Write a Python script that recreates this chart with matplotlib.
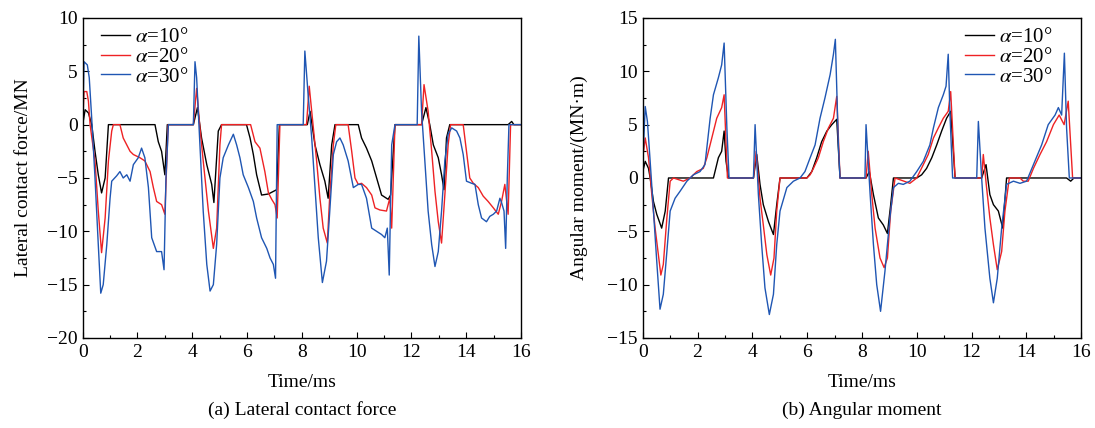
import matplotlib
matplotlib.use("Agg")
import matplotlib.pyplot as plt
from matplotlib.ticker import MultipleLocator

# ---------------- data: (a) lateral contact force (MN) ----------------
tf10 = [0, 0.09, 0.21, 0.33, 0.45, 0.57, 0.69, 0.82, 0.94, 2.64, 2.76, 2.88, 3.0, 3.09,
        4.04, 4.19, 4.34, 4.53, 4.71, 4.79, 4.95, 5.07, 5.98, 6.11, 6.23, 6.35, 6.53, 6.78,
        7.08, 7.18, 8.2, 8.3, 8.48, 8.66, 8.84, 8.96, 9.09, 9.21, 10.06, 10.18, 10.36, 10.55,
        10.73, 10.91, 11.15, 11.24, 11.4, 12.37, 12.53, 12.67, 12.8, 12.98, 13.1, 13.19,
        13.28, 13.4, 15.53, 15.66, 15.74, 16.0]
f10 = [0, 1.4, 1.1, 0, -2.5, -4.7, -6.4, -5.0, 0, 0, -1.6, -2.5, -4.7, 0,
       0, 1.6, -1.25, -3.75, -5.6, -7.3, -0.6, 0, 0, -1.25, -2.8, -4.7, -6.6, -6.5,
       -6.1, 0, 0, 1.25, -1.9, -3.75, -5.3, -6.9, -1.9, 0, 0, -1.25, -2.2, -3.4,
       -5.0, -6.6, -7.0, -6.6, 0, 0, 1.6, 0, -1.9, -3.1, -4.7, -6.1,
       -1.25, 0, 0, 0.3, 0, 0]

tf20 = [0, 0.05, 0.15, 0.21, 0.27, 0.45, 0.57, 0.69, 0.82, 0.94, 1.06, 1.12, 1.36, 1.48,
        1.61, 1.73, 1.85, 2.09, 2.27, 2.46, 2.58, 2.7, 2.88, 3.0, 3.12, 4.04, 4.16, 4.28,
        4.4, 4.59, 4.77, 4.89, 5.01, 5.07, 6.13, 6.29, 6.47, 6.65, 6.78, 6.9, 7.02, 7.1,
        7.2, 8.17, 8.27, 8.42, 8.54, 8.66, 8.78, 8.93, 9.02, 9.15, 9.24, 9.69, 9.82, 9.94,
        10.06, 10.18, 10.36, 10.55, 10.67, 10.85, 11.09, 11.21, 11.28, 11.4, 12.37, 12.46,
        12.61, 12.74, 12.86, 12.98, 13.1, 13.22, 13.34, 13.43, 13.89, 14.01, 14.13, 14.26,
        14.44, 14.62, 14.8, 14.99, 15.17, 15.29, 15.41, 15.53, 15.62, 16.0]
f20 = [0, 3.1, 3.1, 2.2, 0, -3.4, -8.1, -12.0, -8.75, -3.4, -0.6, 0, 0, -1.25,
       -1.9, -2.5, -2.8, -3.1, -3.4, -4.4, -5.9, -7.2, -7.5, -8.4, 0, 0, 3.4, -0.3,
       -3.4, -8.1, -11.6, -9.7, -1.9, 0, 0, -1.6, -2.2, -4.4, -6.4, -7.0, -7.5, -8.75,
       0, 0, 3.6, -0.3, -3.4, -6.9, -9.7, -11.1, -6.6, -1.9, 0, 0, -2.5, -5.0,
       -5.6, -5.5, -5.9, -6.6, -7.8, -8.0, -8.1, -6.9, -9.7, 0, 0, 3.75,
       1.25, -2.5, -6.25, -9.1, -11.1, -6.6, -1.9, 0, 0, -2.5, -5.0, -5.5,
       -5.9, -6.7, -7.2, -7.8, -8.4, -7.2, -5.6, -8.4, 0, 0]

tf30 = [0, 0.05, 0.17, 0.24, 0.33, 0.45, 0.57, 0.66, 0.75, 0.88, 1.0, 1.06, 1.24, 1.36,
        1.48, 1.61, 1.73, 1.85, 2.03, 2.15, 2.27, 2.4, 2.52, 2.7, 2.88, 2.97, 3.04, 3.13,
        4.04, 4.1, 4.16, 4.28, 4.4, 4.53, 4.65, 4.77, 4.89, 5.01, 5.13, 5.32, 5.5, 5.62,
        5.74, 5.86, 6.05, 6.23, 6.35, 6.53, 6.72, 6.84, 6.96, 7.04, 7.1, 8.05, 8.11, 8.23,
        8.36, 8.48, 8.6, 8.75, 8.9, 9.02, 9.15, 9.27, 9.39, 9.51, 9.69, 9.88, 10.06, 10.18,
        10.36, 10.55, 10.73, 10.91, 11.03, 11.12, 11.19, 11.28, 11.4, 12.21, 12.27, 12.37,
        12.49, 12.61, 12.74, 12.86, 12.98, 13.1, 13.22, 13.34, 13.47, 13.65, 13.77, 13.89,
        14.01, 14.2, 14.32, 14.44, 14.56, 14.74, 14.86, 14.99, 15.11, 15.23, 15.29, 15.38,
        15.44, 15.5, 15.56, 16.0]
f30 = [0, 5.9, 5.6, 4.4, 0.6, -5.0, -11.25, -15.8, -15.0, -11.25, -6.9, -5.3, -4.8, -4.4,
       -5.0, -4.7, -5.3, -3.75, -3.1, -2.2, -3.1, -5.9, -10.6, -11.9, -11.9, -13.6, -5.0, 0,
       0, 5.9, 4.4, -1.9, -8.1, -13.1, -15.6, -15.0, -11.25, -5.0, -3.1, -1.9, -0.9, -1.9,
       -3.1, -4.7, -5.9, -7.2, -8.75, -10.6, -11.6, -12.5, -13.1, -14.4, 0, 0, 6.9, 2.8,
       -1.25, -5.9, -10.6, -14.8, -12.8, -8.1, -2.8, -1.6, -1.25, -1.9, -3.4, -5.9, -5.6, -5.6,
       -6.9, -9.7, -10.0, -10.3, -10.6, -9.7, -14.1, -1.9, 0, 0, 8.3, 1.25,
       -3.4, -8.1, -11.25, -13.3, -11.9, -8.1, -3.4, -0.9, -0.3, -0.6, -1.25, -2.8,
       -5.3, -5.5, -5.6, -7.5, -8.75, -9.1, -8.6, -8.4, -8.1, -6.9, -7.3, -8.1,
       -11.6, -5.0, 0, 0]

# ---------------- data: (b) angular moment (MN·m) ----------------
tm10 = [0, 0.09, 0.21, 0.27, 0.39, 0.51, 0.69, 0.82, 0.94, 2.58, 2.76, 2.88, 2.97, 3.04,
        3.13, 4.04, 4.16, 4.28, 4.4, 4.59, 4.77, 4.89, 5.01, 5.99, 6.17, 6.35, 6.53, 6.72,
        6.9, 7.08, 7.2, 8.15, 8.27, 8.42, 8.6, 8.78, 8.93, 9.05, 9.15, 10.0, 10.18, 10.36,
        10.55, 10.73, 10.91, 11.09, 11.24, 11.4, 12.37, 12.53, 12.67, 12.8, 12.98, 13.14,
        13.28, 15.47, 15.62, 15.74, 16.0]
m10 = [0.6, 1.56, 0.9, 0, -2.2, -3.4, -4.7, -3.1, 0, 0, 1.9, 2.5, 4.4, 1.56,
       0, 0, 2.2, -0.6, -2.5, -4.1, -5.3, -2.5, 0, 0, 0.6, 1.9, 3.4, 4.4,
       5.0, 5.5, 0, 0, 0.6, -1.56, -3.75, -4.4, -5.2, -2.5, 0, 0, 0.3, 0.9,
       1.9, 3.1, 4.4, 5.6, 6.25, 0, 0, 1.25, -1.56, -2.5, -3.1, -4.7,
       0, 0, -0.3, 0, 0]

tm20 = [0, 0.09, 0.21, 0.33, 0.45, 0.57, 0.66, 0.75, 0.88, 1.0, 1.12, 1.48, 1.73, 1.97,
        2.21, 2.34, 2.52, 2.7, 2.88, 2.97, 3.09, 4.04, 4.14, 4.28, 4.4, 4.53, 4.67, 4.79,
        4.89, 5.01, 5.99, 6.11, 6.23, 6.41, 6.59, 6.78, 6.96, 7.08, 7.2, 8.15, 8.23, 8.36,
        8.48, 8.66, 8.81, 8.93, 9.05, 9.21, 9.75, 10.0, 10.24, 10.42, 10.61, 10.79, 10.97,
        11.15, 11.24, 11.4, 12.37, 12.43, 12.55, 12.67, 12.8, 12.94, 13.1, 13.22, 13.38,
        13.77, 13.89, 14.07, 14.26, 14.5, 14.74, 14.99, 15.2, 15.38, 15.53, 15.69, 16.0]
m20 = [1.9, 3.75, 1.9, -1.56, -4.7, -7.2, -9.1, -8.1, -3.75, -0.3, 0, -0.3, 0, 0.6,
       0.9, 1.9, 3.75, 5.6, 6.6, 7.8, 0, 0, 2.5, -1.9, -4.4, -7.2, -9.1, -7.5,
       -3.1, 0, 0, 0.3, 0.9, 1.9, 3.4, 4.7, 5.6, 7.65, 0, 0, 2.5, -1.56,
       -4.7, -7.5, -8.4, -7.5, -3.1, 0, -0.5, 0, 1.25, 2.2, 3.75, 4.7, 5.6,
       6.25, 8.1, 0, 0, 2.2, -0.9, -3.75, -6.25, -8.6, -6.9, -3.1, 0,
       0, -0.3, -0.3, 0.9, 2.2, 3.4, 5.0, 5.9, 5.0, 7.2, 0, 0]

tm30 = [0, 0.09, 0.17, 0.27, 0.39, 0.51, 0.63, 0.75, 0.88, 1.0, 1.18, 1.36, 1.61, 1.85,
        2.09, 2.27, 2.46, 2.58, 2.76, 2.88, 2.97, 3.07, 3.15, 4.04, 4.1, 4.22, 4.34, 4.46,
        4.62, 4.77, 4.89, 5.01, 5.26, 5.5, 5.74, 5.92, 6.11, 6.29, 6.47, 6.65, 6.84, 6.96,
        7.03, 7.14, 7.2, 8.11, 8.15, 8.3, 8.42, 8.54, 8.68, 8.84, 9.02, 9.15, 9.33, 9.51,
        9.75, 10.0, 10.24, 10.48, 10.61, 10.79, 10.97, 11.07, 11.15, 11.21, 11.31, 12.19,
        12.25, 12.37, 12.49, 12.67, 12.8, 12.94, 13.1, 13.28, 13.53, 13.77, 14.01, 14.26,
        14.56, 14.8, 15.05, 15.17, 15.29, 15.39, 15.47, 15.57, 16.0]
m30 = [1.5, 6.7, 5.3, 1.56, -3.1, -7.8, -12.3, -10.9, -6.9, -3.1, -1.9, -1.25, -0.3, 0.3,
       0.6, 1.25, 5.6, 7.8, 9.4, 10.6, 12.65, 4.7, 0, 0, 5.0, -1.56, -6.25, -10.3,
       -12.8, -10.9, -6.25, -3.1, -0.9, -0.3, 0, 0.6, 1.9, 3.1, 5.6, 7.5, 9.7, 11.6,
       13.0, 3.1, 0, 0, 5.0, -1.56, -6.25, -10.0, -12.5, -8.75, -3.75, -0.9, -0.5, -0.6,
       -0.3, 0.6, 1.56, 3.1, 4.7, 6.6, 7.8, 8.6, 11.6, 6.25, 0, 0,
       5.3, 0, -4.7, -9.4, -11.7, -9.4, -4.7, -0.6, -0.3, -0.5, -0.3, 1.25,
       3.1, 5.0, 5.9, 6.6, 5.9, 11.7, 4.7, 0, 0]

labels = [r"$\alpha$=10°", r"$\alpha$=20°", r"$\alpha$=30°"]
colors = ["#000000", "#ee2224", "#1f56b3"]
xticks = [0, 2, 4, 6, 8, 10, 12, 14, 16]

plt.rcParams["font.family"] = ["Liberation Serif", "DejaVu Serif"]
plt.rcParams["mathtext.fontset"] = "stix"
plt.rcParams["axes.unicode_minus"] = True

fig = plt.figure(figsize=(10.95, 4.28), dpi=100)
ax1 = fig.add_axes([0.0755, 0.2103, 0.4003, 0.7477])
ax2 = fig.add_axes([0.587, 0.2103, 0.4003, 0.7477])

def style(ax, ylim, ymaj, ylabel, ypad):
    ax.set_xlim(0, 16)
    ax.set_ylim(*ylim)
    ax.set_xticks(xticks)
    ax.yaxis.set_major_locator(MultipleLocator(ymaj))
    ax.yaxis.set_minor_locator(MultipleLocator(ymaj / 2))
    ax.xaxis.set_minor_locator(MultipleLocator(1))
    ax.tick_params(which="both", direction="in", labelsize=14, width=0.8)
    ax.tick_params(which="major", length=4.5)
    ax.tick_params(which="minor", length=2.5)
    ax.tick_params(axis="x", pad=4)
    for s in ax.spines.values():
        s.set_linewidth(1.0)
    ax.set_xlabel("Time/ms", fontsize=14, labelpad=10)
    ax.set_ylabel(ylabel, fontsize=14, labelpad=ypad)

for t, v, lab, c in zip([tf10, tf20, tf30], [f10, f20, f30], labels, colors):
    ax1.plot(t, v, color=c, lw=1.0, label=lab)
for t, v, lab, c in zip([tm10, tm20, tm30], [m10, m20, m30], labels, colors):
    ax2.plot(t, v, color=c, lw=1.0, label=lab)

style(ax1, (-20, 10), 5, "Lateral contact force/MN", 11)
style(ax2, (-15, 15), 5, "Angular moment/(MN·m)", 14)

leg_kw = dict(frameon=False, fontsize=15, handlelength=1.4, handletextpad=0.25,
              labelspacing=0.0, borderaxespad=0.3)
ax1.legend(loc="upper left", bbox_to_anchor=(0.008, 1.015), **leg_kw)
ax2.legend(loc="upper right", bbox_to_anchor=(0.968, 1.015), **leg_kw)

fig.text(0.2757, 0.03, "(a) Lateral contact force", ha="center", fontsize=14)
fig.text(0.787, 0.03, "(b) Angular moment", ha="center", fontsize=14)

fig.savefig("out.png", dpi=100)
